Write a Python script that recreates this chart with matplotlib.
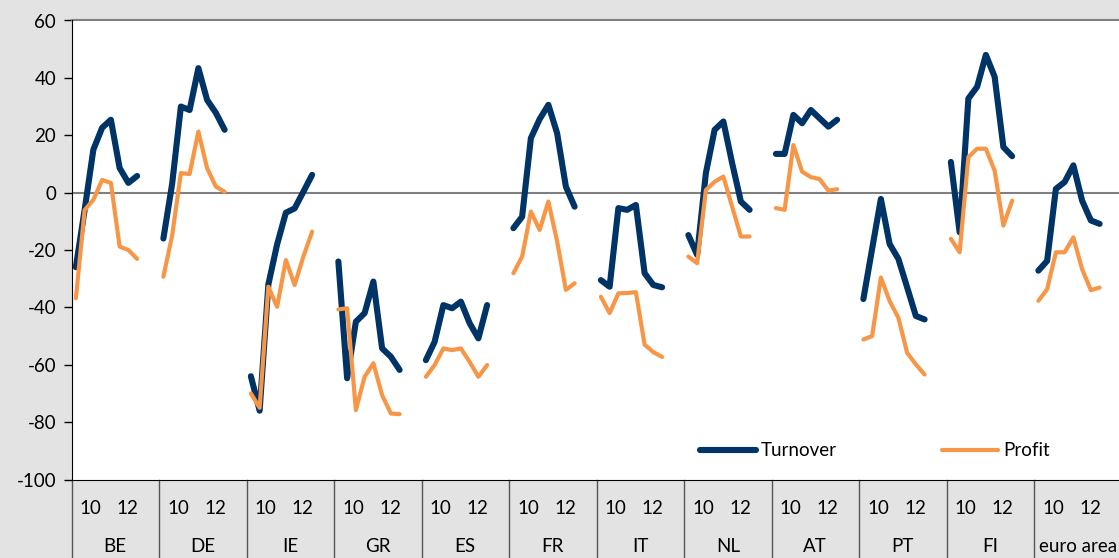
import matplotlib
matplotlib.use("Agg")
import matplotlib.pyplot as plt
import matplotlib.transforms as mtransforms
import numpy as np

plt.rcParams['font.family'] = ['Lato', 'DejaVu Sans']
plt.rcParams['axes.unicode_minus'] = False

countries = ["BE", "DE", "IE", "GR", "ES", "FR", "IT", "NL", "AT", "PT", "FI", "euro area"]
year_labels = ["10", "12"]

turnover = [
    [-26, -6, 15, 22.6, 25.4, 8.6, 3.4, 5.8],       # BE
    [-16, 3, 30, 28.8, 43.4, 32.3, 27.8, 21.9],     # DE
    [-64, -76, -32, -18, -7, -5.5, 0.3, 6.2],       # IE
    [-24, -64.7, -45, -42, -31, -54.3, -57.2, -61.8],  # GR
    [-58.4, -52, -39.2, -40.3, -38, -45.5, -50.8, -39.2],  # ES
    [-12.4, -8.4, 19, 25.6, 30.6, 20.7, 2.1, -4.9],  # FR
    [-30.5, -32.8, -5.4, -6, -4.3, -28.1, -32.2, -33],  # IT
    [-14.8, -21.7, 6.8, 21.9, 24.8, 10.3, -3.1, -6],  # NL
    [13.5, 13.5, 27.1, 24.2, 28.8, 25.9, 23, 25.4],  # AT
    [-37.1, -19.6, -2.2, -17.9, -23.1, -33, -43, -44.2],  # PT
    [10.7, -13.8, 32.8, 36.9, 48, 40.4, 15.9, 12.7],  # FI
    [-27.2, -23.8, 1.3, 3.7, 9.5, -2.8, -9.7, -10.9],  # euro area
]

profit = [
    [-36.8, -6.1, -2.5, 4.4, 3.4, -18.8, -20, -23.1],   # BE
    [-29.3, -15, 6.8, 6.5, 21.3, 8.5, 2.1, 0.3],       # DE
    [-70, -75, -32.8, -39.8, -23.5, -32.2, -22.3, -13.6],  # IE
    [-40.7, -40.3, -75.8, -64.2, -59.5, -70.6, -77, -77.2],  # GR
    [-64.2, -60.1, -54.3, -54.9, -54.3, -59, -64.2, -60.1],  # ES
    [-28.1, -22.3, -6.6, -13, -3.1, -17, -33.9, -31.6],  # FR
    [-36.3, -42, -35.1, -35, -34.7, -53, -55.6, -57.3],  # IT
    [-22.3, -24.6, 0.9, 3.8, 5.6, -4.9, -15.3, -15.3],  # NL
    [-5.4, -6, 16.6, 7.3, 5.4, 4.7, 0.7, 1.2],        # AT
    [-51.2, -50, -29.6, -37.8, -43.6, -55.8, -59.9, -63.4],  # PT
    [-16.1, -20.8, 12.4, 15.3, 15.3, 7.7, -11.5, -2.8],  # FI
    [-37.7, -33.7, -20.8, -20.8, -15.6, -26.7, -34, -33.1],  # euro area
]

W, H = 1119, 558
FS = 13.5
fig = plt.figure(figsize=(W / 100, H / 100), dpi=100)
fig.patch.set_facecolor("#e3e3e3")

left_px, right_px, top_px, bot_px = 71.5, 1121.5, 20.5, 479.5
ax = fig.add_axes([left_px / W, 1 - bot_px / H, (right_px - left_px) / W, (bot_px - top_px) / H])
ax.set_facecolor("white")

SLOTS = 10
NAVY = "#003366"
ORANGE = "#F79646"

for g in range(len(countries)):
    xs = g * SLOTS + np.arange(len(turnover[g])) + 0.5
    lt, = ax.plot(xs, turnover[g], color=NAVY, lw=4.4, solid_capstyle="round",
                  solid_joinstyle="round", zorder=3)
    lp, = ax.plot(xs, profit[g], color=ORANGE, lw=3.0, solid_capstyle="round",
                  solid_joinstyle="round", zorder=4)
    if g == 0:
        h_t, h_p = lt, lp

ax.set_xlim(0, SLOTS * len(countries))
ax.set_ylim(-100, 60)
ax.set_yticks(np.arange(-100, 61, 20))
ax.tick_params(axis="y", direction="out", length=6, width=1, labelsize=FS, pad=5, colors="black")
ax.set_xticks([])

for s in ["top", "right"]:
    ax.spines[s].set_visible(False)
ax.spines["left"].set_color("black")
ax.spines["bottom"].set_color("black")
ax.axhline(0, color="#808080", lw=1.5, zorder=2)
ax.axhline(60, color="#808080", lw=1.5, zorder=2, clip_on=False)

trans = mtransforms.blended_transform_factory(ax.transData, ax.transAxes)
depth = (H - bot_px) / (bot_px - top_px)
for g in range(len(countries) + 1):
    ax.plot([g * SLOTS, g * SLOTS], [0, -depth], transform=trans, color="#555555",
            lw=1.0, clip_on=False, zorder=1)

y_years = -(508 - bot_px) / (bot_px - top_px)
y_names = -(546 - bot_px) / (bot_px - top_px)
for g, name in enumerate(countries):
    ax.text(g * SLOTS + 2.2, y_years, year_labels[0], transform=trans, ha="center",
            va="center", fontsize=FS)
    ax.text(g * SLOTS + 6.4, y_years, year_labels[1], transform=trans, ha="center",
            va="center", fontsize=FS)
    ax.text(g * SLOTS + 5, y_names, name, transform=trans, ha="center", va="center",
            fontsize=FS)

leg = ax.legend([h_t, h_p], ["Turnover", "Profit"], ncol=2, frameon=False,
                loc="center left",
                bbox_to_anchor=((700 - left_px) / (right_px - left_px), (bot_px - 451) / (bot_px - top_px)),
                handlelength=3.0, handletextpad=0.25, columnspacing=5.6,
                borderpad=0, borderaxespad=0, fontsize=FS)

fig.savefig("out.png", dpi=100, facecolor=fig.get_facecolor())
